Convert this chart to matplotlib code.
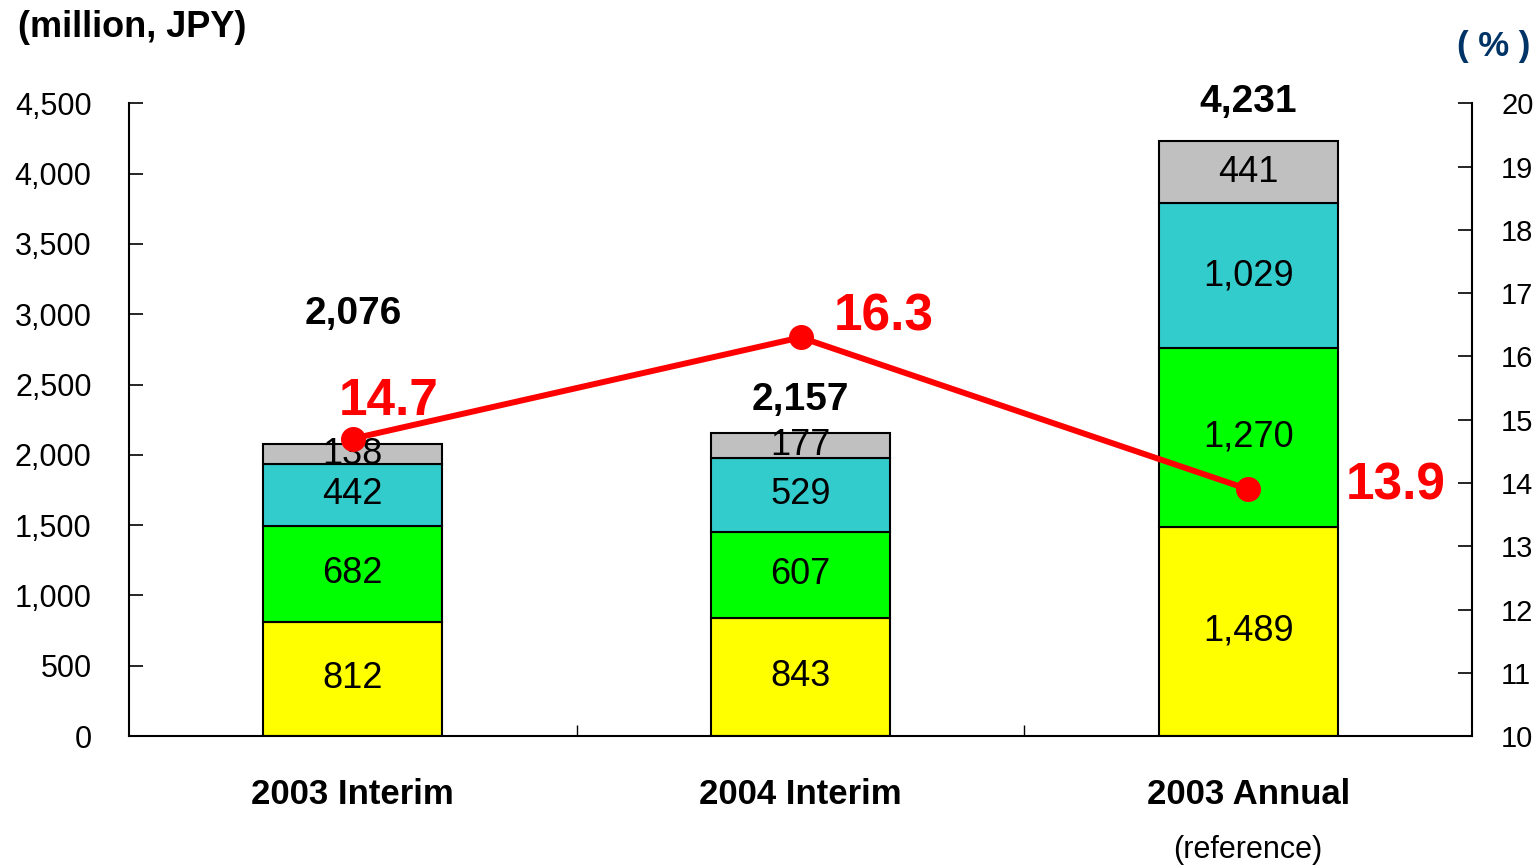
import matplotlib
matplotlib.use("Agg")
import matplotlib.pyplot as plt
import numpy as np

# data
categories = ["2003 Interim", "2004 Interim", "2003 Annual"]
seg_yellow = [812, 843, 1489]
seg_green = [682, 607, 1270]
seg_cyan = [442, 529, 1029]
seg_gray = [138, 177, 441]
totals = [2076, 2157, 4231]
ratio = [14.7, 16.3, 13.9]
left_ticks = [0, 500, 1000, 1500, 2000, 2500, 3000, 3500, 4000, 4500]
right_ticks = list(range(10, 21))

colors = ["#FFFF00", "#00FF00", "#33CCCC", "#C0C0C0"]
segments = [seg_yellow, seg_green, seg_cyan, seg_gray]

plt.rcParams["font.family"] = ["Liberation Sans", "DejaVu Sans"]

fig = plt.figure(figsize=(15.38, 8.68), dpi=100)
ax = fig.add_axes([0.0839, 0.152, 0.8732, 0.729])
x = np.arange(len(categories))
width = 0.40

bottom = np.zeros(len(categories))
for vals, col in zip(segments, colors):
    ax.bar(x, vals, width, bottom=bottom, color=col, edgecolor="black", linewidth=1.5, zorder=2)
    for xi, b, v in zip(x, bottom, vals):
        ax.text(xi, b + v / 2, f"{v:,}", ha="center", va="center", fontsize=26, zorder=3)
    bottom += np.array(vals)

# total labels (offset above bars like in the original)
total_pos = [3000, 2390, 4510]
for xi, t, yp in zip(x, totals, total_pos):
    ax.text(xi, yp, f"{t:,}", ha="center", va="center", fontsize=28, fontweight="bold",
            clip_on=False, zorder=4)

ax.set_xlim(-0.5, 2.5)
ax.set_ylim(0, 4500)
ax.set_yticks(left_ticks)
ax.set_yticklabels([f"{v:,}" for v in left_ticks], fontsize=22)
ax.set_xticks(x)
ax.set_xticklabels(categories, fontsize=25, fontweight="bold")
ax.set_xticks([0.5, 1.5], minor=True)
ax.tick_params(axis="x", which="major", length=0, pad=30)
ax.tick_params(axis="x", which="minor", length=8, direction="in", width=1)
ax.tick_params(axis="y", length=10, direction="in", width=1.2, pad=27)
ax.spines["top"].set_visible(False)
ax.spines["right"].set_visible(False)
for s in ["left", "bottom"]:
    ax.spines[s].set_linewidth(1.5)

ax.text(2, -810, "(reference)", ha="center", va="center", fontsize=22, clip_on=False)

ax2 = ax.twinx()
ax2.set_ylim(10, 20)
ax2.set_yticks(right_ticks)
ax2.set_yticklabels([str(v) for v in right_ticks], fontsize=21)
ax2.tick_params(axis="y", length=10, direction="in", width=1.2, pad=21)
for s in ["top", "left", "bottom"]:
    ax2.spines[s].set_visible(False)
ax2.spines["right"].set_linewidth(1.5)
ax2.plot(x, ratio, color="#FF0000", linewidth=4.3, marker="o", markersize=17, zorder=5)

ratio_pos = [(0.08, 15.28), (0.186, 16.63), (0.33, 13.95)]
for xi, r, (dx, yp) in zip(x, ratio, ratio_pos):
    ax2.text(xi + dx, yp, f"{r}", color="#FF0000", fontsize=37, fontweight="bold",
             ha="center", va="center")

fig.text(0.012, 0.968, "(million, JPY)", fontsize=26, fontweight="bold", va="center", ha="left")
fig.text(0.971, 0.946, "( % )", fontsize=25, fontweight="bold", color="#003366",
         va="center", ha="center")

fig.savefig("out.png", dpi=100)
